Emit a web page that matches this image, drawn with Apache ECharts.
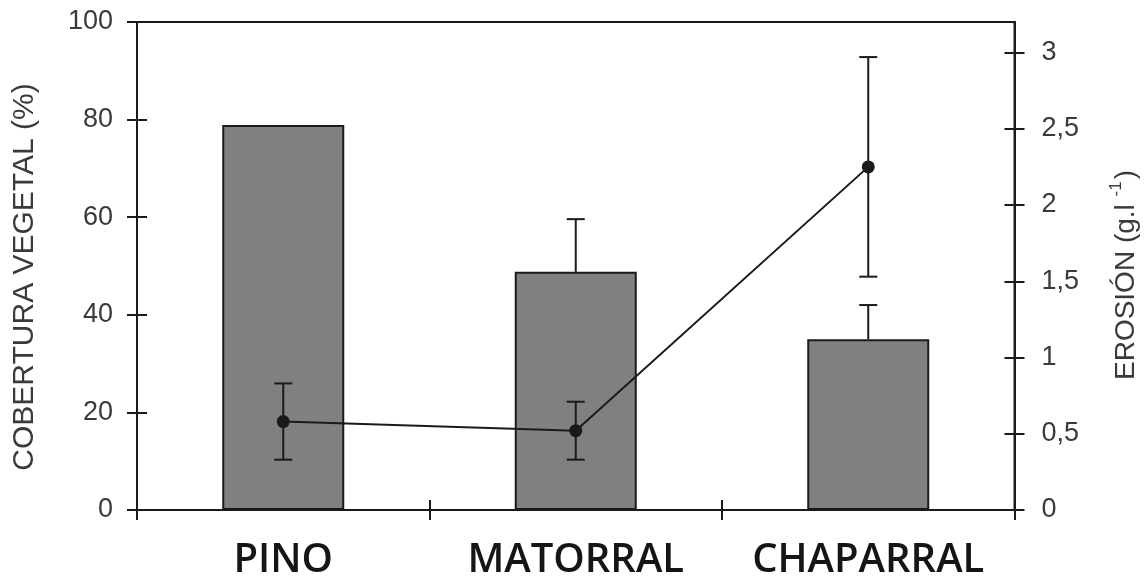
<!DOCTYPE html>
<html>
<head>
<meta charset="utf-8">
<script src="https://cdn.jsdelivr.net/npm/echarts@6/dist/echarts.min.js"></script>
<style>
  html, body { margin: 0; padding: 0; background: #fff; }
  #main { width: 1148px; height: 583px; }
</style>
</head>
<body>
<div id="main"></div>
<script>
// data
const categories = ['PINO', 'MATORRAL', 'CHAPARRAL']
const cobertura = [78.9, 48.8, 35.0]          // %, bars
const coberturaSup = [null, 59.6, 42.0]       // upper end of bar error
const erosion = [0.58, 0.52, 2.25]            // g/l, line
const erosionInf = [0.33, 0.33, 1.53]
const erosionSup = [0.83, 0.71, 2.97]
const rightTicks = [0, 0.5, 1, 1.5, 2, 2.5, 3]

const ink = '#1a1a1a'
const labelFont = { fontFamily: 'Liberation Sans', fontSize: 27, color: '#3a3a3a' }

let barErr = []
for (let i = 0; i < categories.length; i++) {
    if (coberturaSup[i] != null) barErr.push([i, cobertura[i], coberturaSup[i]])
}
let lineErr = []
for (let i = 0; i < categories.length; i++) {
    lineErr.push([i, erosionInf[i], erosionSup[i]])
}

function errRender(bothCaps) {
    return function (params, api) {
        const x = api.value(0)
        const lo = api.coord([x, api.value(1)])
        const hi = api.coord([x, api.value(2)])
        const w = 18
        const st = { stroke: ink, lineWidth: 2 }
        const kids = [
            { type: 'line', shape: { x1: lo[0], y1: lo[1], x2: hi[0], y2: hi[1] }, style: st },
            { type: 'line', shape: { x1: hi[0] - w / 2, y1: hi[1], x2: hi[0] + w / 2, y2: hi[1] }, style: st }
        ]
        if (bothCaps) {
            kids.push({ type: 'line', shape: { x1: lo[0] - w / 2, y1: lo[1], x2: lo[0] + w / 2, y2: lo[1] }, style: st })
        }
        return { type: 'group', children: kids }
    }
}

const axisLine = { show: true, lineStyle: { color: ink, width: 2 } }
const tickOut = { show: true, length: 10, lineStyle: { color: ink, width: 2 } }
const tickIn = { show: true, inside: true, length: 10, lineStyle: { color: ink, width: 2 } }

const option = {
    animation: false,
    grid: {
        left: 137, right: 128, top: 22, bottom: 73,
        show: true, borderColor: ink, borderWidth: 2
    },
    xAxis: [{
        type: 'category',
        position: 'bottom',
        data: categories,
        axisLine: axisLine,
        axisTick: tickOut,
        axisLabel: {
            interval: 0,
            hideOverlap: false,
            margin: 31,
            fontFamily: 'Open Sans', fontWeight: 600, fontSize: 40, color: '#151515'
        }
    }, {
        type: 'category',
        position: 'bottom',
        data: categories,
        axisLine: { show: false },
        axisTick: tickIn,
        axisLabel: { show: false }
    }],
    yAxis: [{
        type: 'value',
        position: 'left',
        min: 0, max: 100, interval: 20,
        splitLine: { show: false },
        axisLine: axisLine,
        axisTick: tickOut,
        axisLabel: Object.assign({ margin: 24 }, labelFont),
        name: 'COBERTURA VEGETAL (%)',
        nameLocation: 'middle',
        nameGap: 97,
        nameTextStyle: {
            fontFamily: 'Liberation Sans', fontSize: 30, color: '#3a3a3a',
            padding: [0, 22, 0, 0]
        }
    }, {
        type: 'value',
        position: 'right',
        min: 0, max: 3.2,
        splitLine: { show: false },
        axisLine: axisLine,
        axisTick: Object.assign({ customValues: rightTicks }, tickOut),
        axisLabel: Object.assign({
            margin: 27,
            customValues: rightTicks,
            formatter: v => String(v).replace('.', ',')
        }, labelFont),
        name: '{n|EROSIÓN (g.l }{s|-1}{n|)}',
        nameLocation: 'middle',
        nameGap: 93,
        nameTextStyle: {
            padding: [0, 18, 0, 0],
            rich: {
                n: { fontFamily: 'Liberation Sans', fontSize: 28, color: '#3a3a3a' },
                s: { fontFamily: 'Liberation Sans', fontSize: 17, color: '#3a3a3a', padding: [0, 2, 20, 0] }
            }
        }
    }, {
        type: 'value',
        position: 'left',
        min: 0, max: 100, interval: 20,
        splitLine: { show: false },
        axisLine: { show: false },
        axisTick: tickIn,
        axisLabel: { show: false }
    }, {
        type: 'value',
        position: 'right',
        min: 0, max: 3.2,
        splitLine: { show: false },
        axisLine: { show: false },
        axisTick: Object.assign({ customValues: rightTicks }, tickIn),
        axisLabel: { show: false }
    }],
    series: [{
        name: 'Cobertura',
        type: 'bar',
        data: cobertura,
        barWidth: 122,
        itemStyle: { color: '#808080', borderColor: ink, borderWidth: 2 },
        z: 2
    }, {
        type: 'custom',
        data: barErr,
        renderItem: errRender(false),
        z: 3
    }, {
        name: 'Erosión',
        type: 'line',
        yAxisIndex: 1,
        data: erosion,
        symbol: 'circle',
        symbolSize: 13,
        itemStyle: { color: ink },
        lineStyle: { color: ink, width: 2 },
        z: 5
    }, {
        type: 'custom',
        yAxisIndex: 1,
        data: lineErr,
        renderItem: errRender(true),
        z: 4
    }]
}

const chart = echarts.init(document.getElementById('main'))
chart.setOption(option)
window.addEventListener('resize', () => {
    chart.resize()
})
</script>
</body>
</html>
